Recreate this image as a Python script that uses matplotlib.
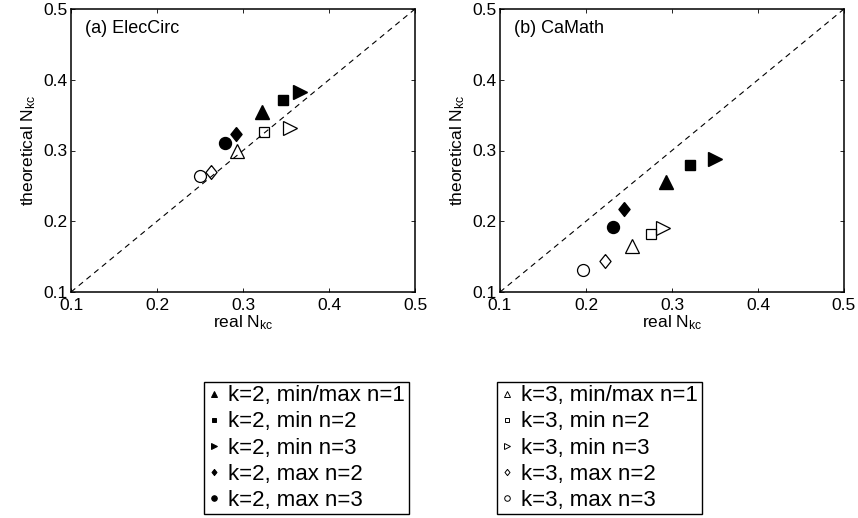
import matplotlib
matplotlib.use('Agg')
import matplotlib.pyplot as plt
from matplotlib.lines import Line2D

plt.rcParams['font.family'] = ['Liberation Sans', 'DejaVu Sans']
plt.rcParams['mathtext.fontset'] = 'custom'
plt.rcParams['mathtext.rm'] = 'Liberation Sans'
plt.rcParams['mathtext.it'] = 'Liberation Sans:italic'

# (a) ElecCirc
elec_real_k2 = [0.322, 0.347, 0.366, 0.292, 0.279]
elec_theo_k2 = [0.355, 0.371, 0.382, 0.324, 0.311]
elec_real_k3 = [0.293, 0.324, 0.355, 0.263, 0.250]
elec_theo_k3 = [0.300, 0.326, 0.332, 0.270, 0.264]

# (b) CaMath
cam_real_k2 = [0.293, 0.321, 0.350, 0.244, 0.231]
cam_theo_k2 = [0.256, 0.280, 0.288, 0.218, 0.192]
cam_real_k3 = [0.254, 0.276, 0.289, 0.222, 0.197]
cam_theo_k3 = [0.165, 0.182, 0.190, 0.144, 0.131]

labels_k2 = ['k=2, min/max n=1', 'k=2, min n=2', 'k=2, min n=3',
             'k=2, max n=2', 'k=2, max n=3']
labels_k3 = ['k=3, min/max n=1', 'k=3, min n=2', 'k=3, min n=3',
             'k=3, max n=2', 'k=3, max n=3']
ticks = [0.1, 0.2, 0.3, 0.4, 0.5]

diamond = [(0, 1), (0.8, 0), (0, -1), (-0.8, 0), (0, 1)]
markers = ['^', 's', '>', diamond, 'o']
sizes = [9.5, 7.2, 9.5, 10, 8.6]
leg_sizes = [4, 3.5, 4, 4.5, 4]

fig = plt.figure(figsize=(8.58, 5.18), dpi=100)
W, H = 858.0, 518.0
ax1 = fig.add_axes([71 / W, (H - 292) / H, 344 / W, 283 / H])
ax2 = fig.add_axes([500 / W, (H - 292) / H, 344 / W, 283 / H])

panels = [(ax1, '(a) ElecCirc', elec_real_k2, elec_theo_k2, elec_real_k3, elec_theo_k3),
          (ax2, '(b) CaMath', cam_real_k2, cam_theo_k2, cam_real_k3, cam_theo_k3)]

for ax, title, rx2, ty2, rx3, ty3 in panels:
    ax.plot([0.1, 0.5], [0.1, 0.5], 'k--', lw=0.8, dashes=(5, 4))
    for i in range(5):
        ax.plot(rx2[i], ty2[i], marker=markers[i], ms=sizes[i], color='k',
                mfc='k', mec='k', ls='none')
        ax.plot(rx3[i], ty3[i], marker=markers[i], ms=sizes[i], color='k',
                mfc='none', mec='k', mew=0.9, ls='none')
    ax.set_xlim(0.1, 0.5)
    ax.set_ylim(0.1, 0.5)
    ax.set_xticks(ticks)
    ax.set_yticks(ticks)
    ax.set_xticklabels(['%.1f' % t for t in ticks])
    ax.set_yticklabels(['%.1f' % t for t in ticks])
    ax.tick_params(direction='in', length=3, width=0.6, top=True, right=True,
                   labelsize=12.5)
    ax.tick_params(axis='x', pad=4.5)
    ax.tick_params(axis='y', pad=2.5)
    for s in ax.spines.values():
        s.set_linewidth(1.1)
    ax.text(0.04, 0.93, title, transform=ax.transAxes, fontsize=13,
            va='center', ha='left')
    ax.set_xlabel('real N$_{\\rm kc}$', fontsize=12.5, labelpad=0)
    ax.set_ylabel('theoretical N$_{\\rm kc}$', fontsize=12.5, labelpad=4)

# legends below the panels, one box per k
def legend_box(labels, filled, x0):
    handles = []
    for i in range(5):
        handles.append(Line2D([], [], ls='none', marker=markers[i], ms=leg_sizes[i],
                              mfc='k' if filled else 'none', mec='k', mew=0.7))
    leg = fig.legend(handles, labels, loc='upper left',
                     bbox_to_anchor=(x0 / W, 1 - 382 / H), fontsize=16,
                     frameon=True, fancybox=False, edgecolor='k',
                     handlelength=0.6, handletextpad=0.35, borderpad=0.15,
                     labelspacing=0.23, borderaxespad=0, framealpha=1)
    leg.get_frame().set_linewidth(1.0)
    return leg

legend_box(labels_k2, True, 204)
legend_box(labels_k3, False, 497)

fig.savefig('out.png', dpi=100)
